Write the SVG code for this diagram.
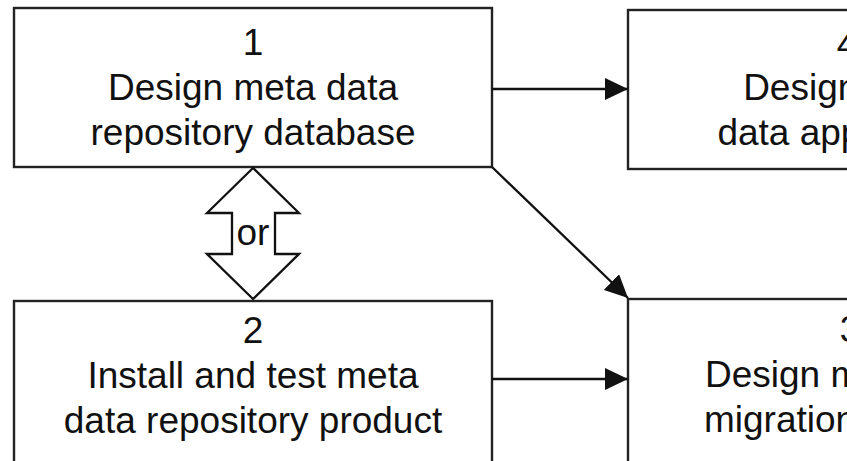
<svg xmlns="http://www.w3.org/2000/svg" width="847" height="461" viewBox="0 0 847 461">
<style>
.box{fill:#fff;stroke:#222;stroke-width:2.4}
.t{font-family:"Liberation Sans",Arial,sans-serif;font-size:37px;fill:#111;text-anchor:middle}
.c{fill:none;stroke:#111;stroke-width:2.3}
</style>
<defs>
<marker id="ah" markerUnits="userSpaceOnUse" markerWidth="24" markerHeight="22" refX="23" refY="11" orient="auto" viewBox="0 0 24 22">
<path d="M0,0 L23,11 L0,22 Z" fill="#111"/>
</marker>
</defs>
<rect width="847" height="461" fill="#fff"/>
<g id="node1">
<rect class="box" x="14" y="8" width="478" height="159"/>
<text class="t" x="253" y="55">1</text>
<text class="t" x="253" y="100">Design meta data</text>
<text class="t" x="253" y="145">repository database</text>
</g>
<g id="node2">
<rect class="box" x="14" y="301" width="478" height="170"/>
<text class="t" x="253" y="343">2</text>
<text class="t" x="253" y="388">Install and test meta</text>
<text class="t" x="253" y="433">data repository product</text>
</g>
<g id="node4">
<rect class="box" x="628" y="10" width="440" height="159"/>
<text class="t" x="847" y="57">4</text>
<text class="t" x="847" y="100">Design meta</text>
<text class="t" x="847" y="145">data application</text>
</g>
<g id="node3">
<rect class="box" x="628" y="299" width="440" height="170"/>
<text class="t" x="850" y="342">3</text>
<text class="t" x="850" y="387">Design meta data</text>
<text class="t" x="850" y="432">migration process</text>
</g>
<g id="connectors">
<line class="c" x1="492" y1="89" x2="628" y2="89" marker-end="url(#ah)"/>
<line class="c" x1="492" y1="379" x2="628" y2="379" marker-end="url(#ah)"/>
<line class="c" x1="492" y1="167" x2="628" y2="298" marker-end="url(#ah)"/>
<polygon class="c" fill="#fff" points="253,168 299,213 275,213 275,254 299,254 253,299 207,254 232,254 232,213 207,213"/>
<text class="t" x="253" y="245">or</text>
</g>
</svg>
